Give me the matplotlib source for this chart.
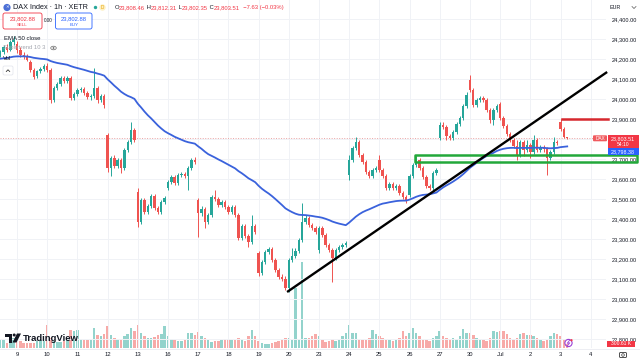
import matplotlib
matplotlib.use("Agg")
import matplotlib.pyplot as plt
from matplotlib.patches import Rectangle, FancyBboxPatch, Circle, Ellipse, Polygon
import numpy as np

plt.rcParams['font.family'] = ['Liberation Sans', 'DejaVu Sans']

# ---------------- data (DAX Index, 1h, XETR) ----------------
# 5 bars of Jun 6, then 9 bars per session day, 3 bars of Jul 3
DAY_LABELS = ["9", "10", "11", "12", "13", "16", "17", "18", "19", "20",
              "23", "24", "25", "26", "27", "30", "Jul", "2", "3", "4"]
FIRST_DAY_BARS = 5
BARS_PER_DAY = 9

OPEN = [
    24220, 24235, 24260, 24245, 24285,
    24275, 24245, 24220, 24210, 24185, 24145, 24115, 24140, 24150,
    24165, 24145, 23995, 24055, 24075, 24105, 24090, 24105, 24005,
    24025, 24045, 24050, 24030, 24010, 24015, 24055, 23995, 24015,
    23820, 23655, 23705, 23665, 23695, 23655, 23745, 23785, 23845,
    23535, 23385, 23495, 23435, 23465, 23515, 23455, 23435, 23485,
    23555, 23585, 23610, 23580, 23620, 23625, 23615, 23655, 23695,
    23495, 23430, 23450, 23385, 23420, 23510, 23500, 23470, 23485,
    23460, 23435, 23460, 23420, 23305, 23365, 23315, 23285, 23365,
    23230, 23130, 23185, 23235, 23250, 23195, 23145, 23110, 23100,
    23055, 23195, 23215, 23240, 23295, 23385, 23405, 23370, 23355,
    23245, 23355, 23320, 23270, 23245, 23205, 23245, 23260, 23270,
    23620, 23695, 23755, 23785, 23720, 23685, 23635, 23615, 23645,
    23695, 23645, 23615, 23555, 23575, 23555, 23565, 23530, 23510,
    23520, 23615, 23670, 23695, 23655, 23610, 23565, 23555, 23630,
    23805, 23870, 23860, 23815, 23805, 23835, 23875, 23905, 23965,
    24095, 24045, 23970, 23995, 24005, 23995, 23945, 23895, 23945,
    23975, 23905, 23865, 23825, 23795, 23765, 23720, 23785, 23745,
    23770, 23735, 23795, 23745, 23760, 23750, 23705, 23735, 23785,
    23885, 23850, 23808.46,
]
HIGH = [
    24245, 24270, 24275, 24295, 24315,
    24290, 24260, 24235, 24225, 24195, 24155, 24145, 24160, 24175,
    24180, 24155, 24065, 24085, 24115, 24115, 24115, 24115, 24035,
    24055, 24060, 24060, 24040, 24025, 24155, 24065, 24025, 24025,
    23830, 23715, 23720, 23705, 23705, 23755, 23795, 23885, 23855,
    23555, 23505, 23505, 23475, 23525, 23525, 23465, 23495, 23515,
    23595, 23620, 23620, 23630, 23635, 23635, 23665, 23705, 23710,
    23505, 23465, 23460, 23430, 23520, 23545, 23510, 23495, 23495,
    23470, 23470, 23470, 23430, 23375, 23375, 23325, 23420, 23375,
    23240, 23195, 23245, 23260, 23260, 23205, 23155, 23125, 23115,
    23205, 23255, 23255, 23305, 23480, 23420, 23415, 23380, 23365,
    23365, 23365, 23330, 23280, 23255, 23255, 23270, 23280, 23290,
    23720, 23765, 23810, 23795, 23730, 23695, 23645, 23655, 23665,
    23720, 23655, 23625, 23585, 23585, 23575, 23575, 23540, 23520,
    23625, 23680, 23715, 23705, 23665, 23620, 23575, 23640, 23655,
    23885, 23885, 23870, 23825, 23845, 23885, 23915, 23975, 24035,
    24120, 24055, 24005, 24015, 24015, 24005, 23955, 23955, 23975,
    23985, 23915, 23875, 23835, 23805, 23795, 23795, 23795, 23795,
    23780, 23820, 23805, 23770, 23770, 23760, 23745, 23810, 23795,
    23900, 23860, 23812.31,
]
LOW = [
    24210, 24225, 24235, 24240, 24270,
    24230, 24210, 24200, 24190, 24135, 24100, 24105, 24130, 24140,
    24135, 23980, 23985, 24045, 24065, 24080, 24080, 23995, 23995,
    24015, 24035, 24020, 24000, 23995, 24005, 23980, 23985, 23955,
    23635, 23615, 23655, 23655, 23630, 23645, 23735, 23775, 23785,
    23360, 23375, 23425, 23425, 23455, 23445, 23425, 23425, 23475,
    23545, 23575, 23570, 23570, 23610, 23605, 23545, 23645, 23675,
    23310, 23415, 23355, 23375, 23410, 23490, 23460, 23460, 23450,
    23425, 23425, 23410, 23295, 23295, 23305, 23260, 23275, 23325,
    23115, 23120, 23175, 23225, 23185, 23135, 23100, 23090, 23045,
    23035, 23185, 23205, 23230, 23285, 23375, 23360, 23345, 23325,
    23230, 23310, 23260, 23235, 23085, 23195, 23235, 23250, 23260,
    23595, 23685, 23745, 23710, 23675, 23625, 23605, 23605, 23635,
    23635, 23605, 23545, 23545, 23545, 23545, 23520, 23500, 23480,
    23510, 23605, 23660, 23645, 23600, 23555, 23545, 23545, 23620,
    23795, 23850, 23795, 23795, 23795, 23825, 23865, 23895, 23955,
    24035, 23960, 23960, 23985, 23985, 23935, 23880, 23870, 23935,
    23895, 23855, 23815, 23785, 23755, 23695, 23710, 23715, 23735,
    23705, 23725, 23735, 23735, 23735, 23620, 23695, 23725, 23770,
    23840, 23805, 23802.35,
]
CLOSE = [
    24235, 24260, 24245, 24285, 24295,
    24245, 24220, 24210, 24195, 24145, 24110, 24140, 24150, 24165,
    24145, 23995, 24055, 24075, 24105, 24090, 24105, 24005, 24025,
    24045, 24050, 24030, 24010, 24015, 24055, 23995, 24015, 23970,
    23655, 23705, 23665, 23695, 23655, 23745, 23785, 23845, 23795,
    23385, 23495, 23435, 23465, 23515, 23455, 23435, 23485, 23505,
    23585, 23610, 23580, 23620, 23625, 23615, 23655, 23695, 23685,
    23430, 23450, 23385, 23420, 23510, 23500, 23470, 23485, 23460,
    23435, 23460, 23420, 23305, 23365, 23315, 23285, 23365, 23335,
    23130, 23185, 23235, 23250, 23195, 23145, 23110, 23100, 23055,
    23195, 23215, 23240, 23295, 23385, 23405, 23370, 23355, 23335,
    23355, 23320, 23270, 23245, 23205, 23245, 23260, 23270, 23280,
    23695, 23755, 23785, 23720, 23685, 23635, 23615, 23645, 23655,
    23645, 23615, 23555, 23575, 23555, 23565, 23530, 23510, 23495,
    23615, 23670, 23695, 23655, 23610, 23565, 23555, 23630, 23645,
    23870, 23860, 23815, 23805, 23835, 23875, 23905, 23965, 24020,
    24045, 23970, 23995, 24005, 23995, 23945, 23895, 23945, 23965,
    23905, 23865, 23825, 23795, 23765, 23720, 23785, 23745, 23770,
    23735, 23795, 23745, 23760, 23750, 23705, 23735, 23785, 23780,
    23850, 23810, 23803.51,
]
VOLUME_K = [
    600, 600, 375, 525, 750,
    750, 525, 375, 375, 375, 375, 525, 600, 525,
    1725, 750, 525, 450, 450, 525, 750, 1350, 1275,
    1350, 675, 600, 600, 600, 1500, 975, 900, 1050,
    1650, 975, 750, 675, 675, 900, 1050, 1500, 1275,
    1725, 1125, 900, 750, 750, 825, 975, 1050, 1650,
    900, 675, 600, 525, 525, 600, 1125, 1125, 975,
    1200, 900, 750, 600, 450, 525, 525, 600, 675,
    675, 600, 600, 750, 675, 525, 900, 1350, 900,
    525, 375, 300, 300, 375, 450, 525, 675, 750,
    750, 600, 4500, 675, 6450, 750, 750, 900, 1050,
    900, 600, 450, 525, 675, 525, 600, 900, 1125,
    1725, 1125, 1125, 675, 600, 600, 750, 1350, 1050,
    900, 750, 600, 600, 525, 600, 750, 1275, 900,
    1125, 1500, 1125, 900, 600, 600, 525, 750, 900,
    1275, 900, 750, 675, 750, 675, 900, 1425, 1125,
    1125, 975, 750, 600, 600, 525, 750, 1275, 1200,
    1275, 1275, 1050, 750, 675, 750, 1050, 1125, 975,
    975, 900, 750, 600, 525, 600, 900, 1125, 1050,
    900, 600, 300.61,
]

PRICE_TICKS = [22800, 22900, 23000, 23100, 23200, 23300, 23400, 23500,
               23600, 23700, 23900, 24000, 24100, 24200, 24300, 24400]

EMA_LEN = 50
EMA_SEED = 24200

# drawings (bar index, price)
TREND_X = [85.5, 180.9]
TREND_Y = [23035, 24135]
ZONE_X = [123.6, 189.8]
ZONE_Y = [23685, 23720]
RES_X = [167.4, 181.2]
RES_Y = 23900

BID_ASK = "23,802.88"
SPREAD = "0.00"
EMA_LABEL = "23,798.38"
COUNTDOWN = "54:10"
VOL_LABEL = "300.61 K"
CHANGE = "−7.63"
CHANGE_PCT = "(−0.03%)"

# ---------------- styling ----------------
GREEN = '#26a69a'
RED = '#ef5350'
VGREEN = '#93d3cc'
VRED = '#f7aaa8'
BLUE = '#3a62dc'
ZONE = '#22a83a'
RESC = '#d6282e'
TXT = '#131722'
GRID = '#f0f2f6'

W, H = 640, 364
PLOT_W, PLOT_H, PLOT_B = 606, 348, 16
fig = plt.figure(figsize=(W / 100, H / 100), dpi=100)
fig.patch.set_facecolor('white')
rect = [0, PLOT_B / H, PLOT_W / W, PLOT_H / H]
axv = fig.add_axes(rect)
ax = fig.add_axes(rect, sharex=axv)
ax.patch.set_alpha(0)

n = len(CLOSE)
x = np.arange(n)
O = np.array(OPEN, float); Hh = np.array(HIGH, float)
L = np.array(LOW, float); C = np.array(CLOSE, float)
V = np.array(VOLUME_K, float)
up = C >= O

day_start = [FIRST_DAY_BARS + BARS_PER_DAY * k for k in range(len(DAY_LABELS))]

ax.set_xlim(-0.07, 180.56)
ax.set_ylim(22755, 24495)
axv.set_ylim(0, 26100)

# grid
for p in range(22800, 24500, 100):
    ax.axhline(p, color=GRID, lw=0.7, zorder=0)
for d in day_start:
    ax.axvline(d, color=GRID, lw=0.7, zorder=0)

# volume
axv.bar(x, V, width=0.74, color=np.where(up, VGREEN, VRED), linewidth=0)
axv.set_axis_off()

# candles
cols = np.where(up, GREEN, RED)
ax.vlines(x, L, Hh, colors=cols, lw=0.7, zorder=3)
ax.bar(x, np.maximum(np.abs(C - O), 1.5), bottom=np.minimum(O, C),
       width=0.72, color=cols, linewidth=0, zorder=4)

# EMA 50
alpha = 2 / (EMA_LEN + 1)
ema, e = [], EMA_SEED
for c in C:
    e = alpha * c + (1 - alpha) * e
    ema.append(e)
ax.plot(x, ema, color=BLUE, lw=1.3, zorder=5)

# current price dotted line
ax.axhline(C[-1], color='#eba3a3', lw=0.7, ls=(0, (1, 1.6)), zorder=2)

# drawings
ax.plot(TREND_X, TREND_Y, color='black', lw=1.7, zorder=7, clip_on=False,
        solid_capstyle='butt')
ax.add_patch(Rectangle((ZONE_X[0], ZONE_Y[0]), ZONE_X[1] - ZONE_X[0],
                       ZONE_Y[1] - ZONE_Y[0], fill=False, edgecolor=ZONE,
                       lw=1.8, zorder=6, clip_on=False, joinstyle='round'))
ax.plot(RES_X, [RES_Y, RES_Y], color=RESC, lw=1.8, zorder=6, clip_on=False)

# axes ticks
ax.yaxis.tick_right()
ax.set_yticks(PRICE_TICKS)
ax.set_yticklabels([f"{p:,.2f}" for p in PRICE_TICKS])
ax.tick_params(axis='y', length=0, pad=3.8, labelsize=4.1, labelcolor=TXT)
ax.set_xticks(day_start)
ax.set_xticklabels(DAY_LABELS)
ax.tick_params(axis='x', length=0, pad=3.2, labelsize=4.2, labelcolor=TXT)
for s in ax.spines.values():
    s.set_visible(False)

# ---------------- overlay (pixel coordinates) ----------------
ov = fig.add_axes([0, 0, 1, 1], zorder=10)
ov.set_xlim(0, W); ov.set_ylim(H, 0)
ov.set_axis_off(); ov.patch.set_alpha(0)


def ypx(axis, value):
    return H - axis.transData.transform((0, value))[1]


ov.plot([0, W], [348.5, 348.5], color='#e6e8ee', lw=0.5)

# price-scale labels
yc = ypx(ax, C[-1])
ov.add_patch(FancyBboxPatch((593, yc - 3), 14, 6, boxstyle='round,pad=0,rounding_size=1',
                            fc='#f05a5e', ec='none'))
ov.text(600, yc, "DAX", color='white', fontsize=3.4, ha='center', va='center')
ov.add_patch(Rectangle((607.5, yc - 3.4), 31.5, 13.2, fc='#f23645', ec='none'))
ov.text(623, yc, f"{C[-1]:,.2f}", color='white', fontsize=3.9, ha='center', va='center')
ov.text(623, yc + 6.2, COUNTDOWN, color='white', fontsize=3.6, ha='center', va='center')
ov.add_patch(Rectangle((607.5, yc + 9.8), 31.5, 6.5, fc='#2962ff', ec='none'))
ov.text(623, yc + 13, EMA_LABEL, color='white', fontsize=3.9, ha='center', va='center')

yv = ypx(axv, V[-1])
ov.add_patch(Rectangle((607, yv - 3.3), 28, 6.6, fc='#f23645', ec='none'))
ov.text(621, yv, VOL_LABEL, color='white', fontsize=3.6, ha='center', va='center')

ov.text(610, 7.5, "EUR", color=TXT, fontsize=3.9, va='center')
ov.plot([632, 634, 636], [6.5, 8.5, 6.5], color='#555', lw=0.5)

# lightning and camera icons
ov.add_patch(Circle((568.5, 343), 3.6, fill=False, ec='#9b3fd6', lw=0.8))
ov.plot([569.5, 567.2, 569.8, 567.5], [340.3, 343.3, 342.8, 345.8], color='#9b3fd6', lw=0.6)
ov.add_patch(Circle((571.5, 340.2), 1.1, fc='#f23645', ec='none'))
ov.add_patch(FancyBboxPatch((619.5, 352.5), 7, 5, boxstyle='round,pad=0,rounding_size=1',
                            fill=False, ec='#333', lw=0.6))
ov.add_patch(Circle((623, 355), 1.3, fill=False, ec='#333', lw=0.5))

# legend header
ov.add_patch(Circle((7, 7.5), 3.6, fc='#4b6fd6', ec='none'))
ov.text(7, 7.6, "✕", color='white', fontsize=3.2, ha='center', va='center')
ov.text(13, 7.8, "DAX Index · 1h · XETR", color=TXT, fontsize=5.2, va='center')
ov.add_patch(Circle((95.5, 7.5), 1.7, fc=GREEN, ec='none'))
ov.add_patch(Circle((102.5, 7.5), 3.2, fc='#fdf0c2', ec='none'))
ov.text(102.5, 7.6, "D", color='#e8a000', fontsize=3.3, ha='center', va='center')

r = fig.canvas.get_renderer()
xx = 114.5
parts = [("O", TXT), (f"{O[-1]:,.2f}", '#f23645'), (" H", TXT), (f"{Hh[-1]:,.2f}", '#f23645'),
         (" L", TXT), (f"{L[-1]:,.2f}", '#f23645'), (" C", TXT), (f"{C[-1]:,.2f}", '#f23645'),
         ("  " + CHANGE, '#f23645'), (" " + CHANGE_PCT, '#f23645')]
for s, col in parts:
    t = ov.text(xx, 7.8, s, color=col, fontsize=4.2, va='center')
    bb = t.get_window_extent(r)
    xx += bb.width

ov.add_patch(FancyBboxPatch((3, 13), 39, 16, boxstyle='round,pad=0,rounding_size=2',
                            fc='white', ec='#f23645', lw=0.6))
ov.text(22.5, 18.5, BID_ASK, color='#f23645', fontsize=4.2, ha='center', va='center')
ov.text(22.5, 25, "SELL", color='#f23645', fontsize=3.2, ha='center', va='center')
ov.text(48.5, 21, SPREAD, color=TXT, fontsize=3.3, ha='center', va='center')
ov.add_patch(FancyBboxPatch((55.5, 13), 36.5, 16, boxstyle='round,pad=0,rounding_size=2',
                            fc='white', ec='#2962ff', lw=0.6))
ov.text(73.7, 18.5, BID_ASK, color='#2962ff', fontsize=4.2, ha='center', va='center')
ov.text(73.7, 25, "BUY", color='#2962ff', fontsize=3.2, ha='center', va='center')

ov.text(4, 38, "EMA 50 close", color=TXT, fontsize=4.3, va='center')
ov.text(3, 48, "Supertrend 10 3", color='#a3a6af', fontsize=4.2, va='center')
ov.add_patch(Ellipse((53.5, 48), 5.5, 3.6, fill=False, ec='#666', lw=0.5))
ov.add_patch(Circle((53.5, 48), 0.9, fc='#666', ec='none'))
ov.text(3, 58, "Vol", color=TXT, fontsize=4.3, va='center')
ov.add_patch(FancyBboxPatch((3, 66), 10, 9, boxstyle='round,pad=0,rounding_size=1.5',
                            fc='white', ec='#e0e3eb', lw=0.5))
ov.plot([6.3, 8, 9.7], [71.5, 69.8, 71.5], color='#333', lw=0.6)

# TradingView logo
ov.add_patch(Polygon([(5, 333.5), (12, 333.5), (12, 342.5), (9, 342.5), (9, 336.5), (5, 336.5)],
                     closed=True, fc='#131722', ec='none'))
ov.add_patch(Circle((14.2, 335), 1.5, fc='#131722', ec='none'))
ov.add_patch(Polygon([(17, 333.5), (21, 333.5), (16.5, 342.5), (12.5, 342.5)],
                     closed=True, fc='#131722', ec='none'))
ov.text(23, 338.3, "TradingView", color='#131722', fontsize=6.8, fontweight='bold', va='center')

fig.savefig("out.png", dpi=100, facecolor='white')
